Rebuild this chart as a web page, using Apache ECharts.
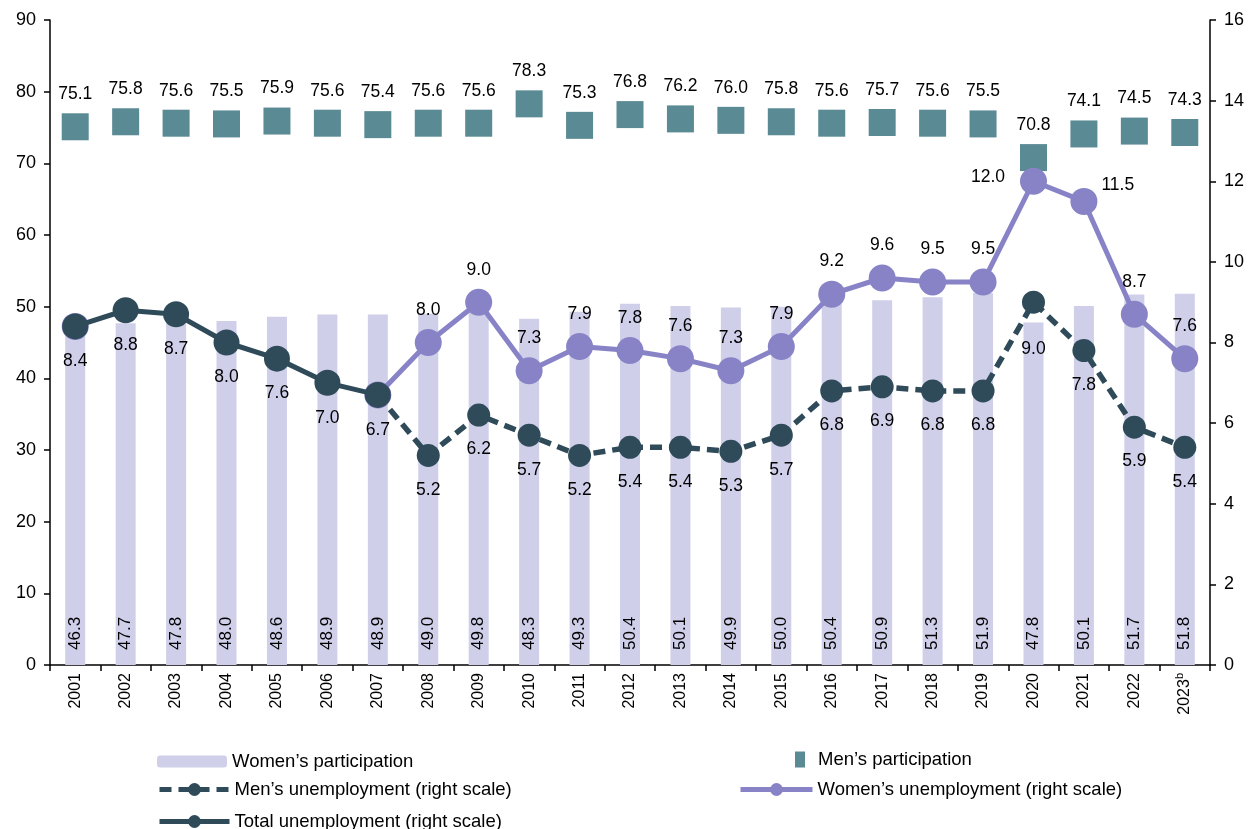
<!DOCTYPE html>
<html>
<head>
<meta charset="utf-8">
<script src="https://cdn.jsdelivr.net/npm/echarts@6/dist/echarts.min.js"></script>
<style>
  html, body { margin: 0; padding: 0; background: #fff; }
  #chart { width: 1248px; height: 829px; }
</style>
</head>
<body>
<div id="chart"></div>
<script>
// 年份
const years = ['2001', '2002', '2003', '2004', '2005', '2006', '2007', '2008', '2009', '2010', '2011', '2012',
  '2013', '2014', '2015', '2016', '2017', '2018', '2019', '2020', '2021', '2022', '2023'];
// 参与率（左轴）
const womenParticipation = [46.3, 47.7, 47.8, 48.0, 48.6, 48.9, 48.9, 49.0, 49.8, 48.3, 49.3, 50.4,
  50.1, 49.9, 50.0, 50.4, 50.9, 51.3, 51.9, 47.8, 50.1, 51.7, 51.8];
const menParticipation = [75.1, 75.8, 75.6, 75.5, 75.9, 75.6, 75.4, 75.6, 75.6, 78.3, 75.3, 76.8,
  76.2, 76.0, 75.8, 75.6, 75.7, 75.6, 75.5, 70.8, 74.1, 74.5, 74.3];
// 失业率（右轴）
const womenUnemployment = [8.4, null, null, null, null, null, 6.7, 8.0, 9.0, 7.3, 7.9, 7.8,
  7.6, 7.3, 7.9, 9.2, 9.6, 9.5, 9.5, 12.0, 11.5, 8.7, 7.6];
const menUnemployment = [null, null, null, null, null, null, 6.7, 5.2, 6.2, 5.7, 5.2, 5.4,
  5.4, 5.3, 5.7, 6.8, 6.9, 6.8, 6.8, 9.0, 7.8, 5.9, 5.4];
const totalUnemployment = [8.4, 8.8, 8.7, 8.0, 7.6, 7.0, 6.7, null, null, null, null, null,
  null, null, null, null, null, null, null, null, null, null, null];

const FONT = '"Liberation Sans", Arial, sans-serif';
const cBar = '#CFCFEA';
const cSquare = '#5A8A94';
const cDark = '#2F4B5A';
const cPurple = '#8883C6';

const fmt = p => p.value == null ? '' : Number(p.value).toFixed(1);

// 单独调整个别标签
const womenData = womenUnemployment.map((v, i) => {
  if (i === 0 || i === 6) return { value: v, label: { show: false } };
  if (i === 19) return { value: v, label: { position: 'left', distance: 15, offset: [0, -4] } };
  if (i === 20) return { value: v, label: { position: 'right', distance: 4, offset: [0, -16] } };
  return v;
});
const menData = menUnemployment.map((v, i) => {
  if (i === 6) return { value: v, label: { show: false } };
  if (i === 19) return { value: v, label: { distance: 26 } };
  return v;
});

const chart = echarts.init(document.getElementById('chart'));
const legendText = { fontFamily: FONT, fontSize: 18.5, color: '#000' };

// 图例：每一项单独放置
function legendItem(name, left, centerY, w, h, extra) {
  return Object.assign({
    left: left, top: centerY - h / 2, padding: 0,
    itemWidth: w, itemHeight: h,
    textStyle: legendText,
    lineStyle: { width: 5 },
    data: [name]
  }, extra || {});
}

chart.setOption({
  animation: false,
  textStyle: { fontFamily: FONT },
  grid: { left: 50, right: 38, top: 20, bottom: 164 },
  legend: [
    legendItem('Women’s participation', 157, 758, 70, 12),
    legendItem('Men’s participation', 795, 758, 10, 16, {
      icon: 'rect', textStyle: Object.assign({}, legendText, { padding: [0, 0, 0, 8] })
    }),
    legendItem('Men’s unemployment (right scale)', 157, 788, 70, 16),
    legendItem('Women’s unemployment (right scale)', 738, 788, 72, 16),
    legendItem('Total unemployment (right scale)', 157, 820, 70, 16)
  ],
  xAxis: {
    type: 'category',
    data: years,
    axisLine: { lineStyle: { color: '#000', width: 1.5 } },
    axisTick: { show: true, length: 6, lineStyle: { color: '#000', width: 1.5 } },
    axisLabel: {
      rotate: 90, fontSize: 16, color: '#000', margin: 8,
      formatter: v => v === '2023' ? '2023{sup|b}' : v,
      rich: { sup: { fontSize: 11, color: '#000', padding: [0, 0, 9, 0] } }
    }
  },
  yAxis: [
    {
      type: 'value', min: 0, max: 90, interval: 10,
      axisLine: { show: true, lineStyle: { color: '#000', width: 1.5 } },
      axisTick: { show: true, length: 6, lineStyle: { color: '#000', width: 1.5 } },
      axisLabel: { fontSize: 18, color: '#000', margin: 14 },
      splitLine: { show: false }
    },
    {
      type: 'value', min: 0, max: 16, interval: 2,
      axisLine: { show: true, lineStyle: { color: '#000', width: 1.5 } },
      axisTick: { show: true, length: 6, lineStyle: { color: '#000', width: 1.5 } },
      axisLabel: { fontSize: 18, color: '#000', margin: 14 },
      splitLine: { show: false }
    }
  ],
  series: [
    {
      name: 'Women’s participation',
      type: 'bar',
      data: womenParticipation,
      barWidth: 20,
      itemStyle: { color: cBar },
      label: {
        show: true, position: 'insideBottom', rotate: 90, align: 'left', verticalAlign: 'middle',
        distance: 15, fontSize: 17, color: '#000', formatter: fmt
      },
      z: 1
    },
    {
      name: 'Men’s participation',
      type: 'scatter',
      data: menParticipation,
      symbol: 'rect',
      symbolSize: 27,
      itemStyle: { color: cSquare, opacity: 1 },
      label: { show: true, position: 'top', distance: 10, fontSize: 17.5, color: '#000', formatter: fmt },
      z: 2
    },
    {
      name: 'Women’s unemployment (right scale)',
      type: 'line',
      yAxisIndex: 1,
      data: womenData,
      symbol: 'circle',
      symbolSize: 27,
      showSymbol: true,
      lineStyle: { color: cPurple, width: 5 },
      itemStyle: { color: cPurple },
      label: { show: true, position: 'top', distance: 10, fontSize: 17.5, color: '#000', formatter: fmt },
      z: 3
    },
    {
      name: 'Men’s unemployment (right scale)',
      type: 'line',
      yAxisIndex: 1,
      data: menData,
      symbol: 'circle',
      symbolSize: 23,
      showSymbol: true,
      lineStyle: { color: cDark, width: 5.5, type: [12, 7] },
      itemStyle: { color: cDark },
      label: { show: true, position: 'bottom', distance: 14, fontSize: 17.5, color: '#000', formatter: fmt },
      z: 4
    },
    {
      name: 'Total unemployment (right scale)',
      type: 'line',
      yAxisIndex: 1,
      data: totalUnemployment,
      symbol: 'circle',
      symbolSize: 26,
      showSymbol: true,
      lineStyle: { color: cDark, width: 5 },
      itemStyle: { color: cDark },
      label: { show: true, position: 'bottom', distance: 13, fontSize: 17.5, color: '#000', formatter: fmt },
      z: 5
    }
  ]
});
</script>
</body>
</html>
